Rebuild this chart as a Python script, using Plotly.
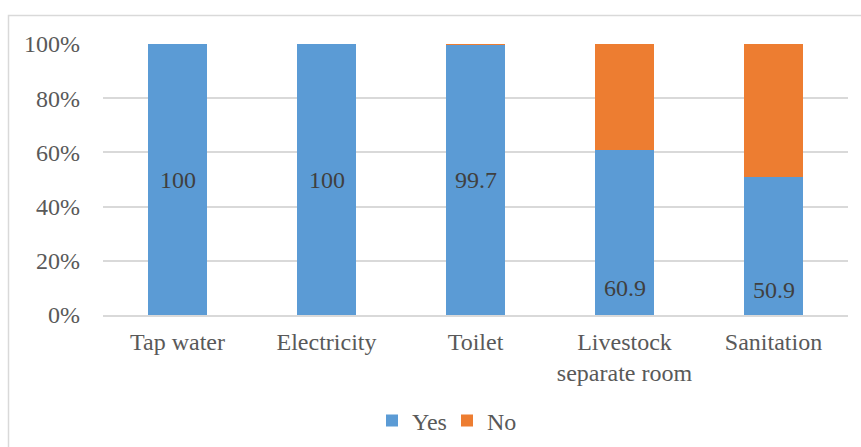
import plotly.graph_objects as go

categories = ["Tap water", "Electricity", "Toilet", "Livestock<br>separate room", "Sanitation"]
yes_values = [100, 100, 99.7, 60.9, 50.9]
no_values = [0, 0, 0.3, 39.1, 49.1]
yes_labels = ["100", "100", "99.7", "60.9", "50.9"]
tick_values = [0, 20, 40, 60, 80, 100]
tick_labels = ["0%", "20%", "40%", "60%", "80%", "100%"]

# vertical placement of the in-bar value labels (percent units)
label_y = [50, 50, 50, 10, 9.3]

BLUE = "#5B9BD5"
ORANGE = "#ED7D31"
GRID = "#D9D9D9"
TEXT = "#595959"
FONT = "Liberation Serif, Times New Roman, serif"
FS = 24

W, H = 861, 447
L, R, T, B = 103, 13, 44, 132
pw, ph = W - L - R, H - T - B

fig = go.Figure()
fig.add_trace(go.Bar(name="Yes", x=categories, y=yes_values, marker_color=BLUE,
                     marker_line_width=0, hoverinfo="skip"))
fig.add_trace(go.Bar(name="No", x=categories, y=no_values, marker_color=ORANGE,
                     marker_line_width=0, hoverinfo="skip"))

for cat, txt, ly in zip(categories, yes_labels, label_y):
    fig.add_annotation(x=cat, y=ly, text=txt, showarrow=False,
                       font=dict(family=FONT, size=FS, color="#404040"))

# light outer frame around the chart area
def px_x(p):
    return (p - L) / pw

def px_y(p):
    return (H - B - p) / ph

fig.add_shape(type="rect", xref="paper", yref="paper",
              x0=px_x(8.5), x1=px_x(880), y0=px_y(470), y1=px_y(15.5),
              line=dict(color=GRID, width=1.5), fillcolor="rgba(0,0,0,0)", layer="below")

fig.update_layout(
    width=W, height=H,
    margin=dict(l=L, r=R, t=T, b=B, pad=0, autoexpand=False),
    barmode="stack",
    bargap=0.6,
    plot_bgcolor="white",
    paper_bgcolor="white",
    font=dict(family=FONT, size=FS, color=TEXT),
    showlegend=True,
    legend=dict(orientation="h", x=px_x(447), xanchor="center",
                y=px_y(421), yanchor="middle",
                font=dict(family=FONT, size=FS, color=TEXT),
                itemwidth=30, entrywidth=30, traceorder="normal"),
    xaxis=dict(showgrid=False, showline=True, linecolor=GRID, linewidth=1.5,
               ticks="", automargin=False, ticklabelstandoff=4,
               tickfont=dict(family=FONT, size=FS, color=TEXT)),
    yaxis=dict(range=[0, 100], tickvals=tick_values, ticktext=tick_labels,
               showgrid=True, gridcolor=GRID, gridwidth=1.5, zeroline=False,
               showline=False, ticks="", ticklabelstandoff=22, automargin=False,
               tickfont=dict(family=FONT, size=FS, color=TEXT)),
)

fig.write_html("out.html")
